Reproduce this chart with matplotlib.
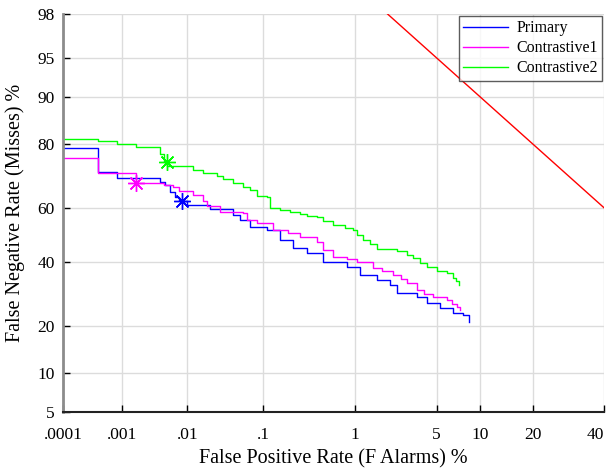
import numpy as np
import matplotlib
matplotlib.use('Agg')
import matplotlib.pyplot as plt
from statistics import NormalDist

plt.rcParams['font.family'] = ['Liberation Serif', 'DejaVu Serif']

# DET curves, values in percent (steps: x where the miss rate drops, new miss rate)
primary_fpr = [0.0001, 0.0004, 0.00083, 0.0040, 0.0047, 0.0056, 0.0066, 0.0075, 0.0083,
               0.0098, 0.0207, 0.0418, 0.0515, 0.069, 0.111, 0.159, 0.224, 0.322, 0.476,
               0.834, 1.117, 1.603, 2.09, 2.41, 3.52, 4.22, 5.26, 6.56, 7.66, 8.5]
primary_fnr = [79.0, 72.0, 70.1, 69.0, 67.9, 65.6, 63.9, 62.8, 62.4,
               61.0, 59.5, 57.4, 55.5, 53.1, 51.9, 48.2, 45.2, 43.4, 40.1,
               38.3, 35.5, 33.8, 32.1, 29.5, 28.2, 26.4, 24.9, 23.5, 22.9, 21.0]

contr1_fpr = [0.0001, 0.0004, 0.00083, 0.0017, 0.0045, 0.0062, 0.0075, 0.012, 0.0165,
              0.0188, 0.0282, 0.0564, 0.0634, 0.084, 0.132, 0.2, 0.269, 0.411, 0.476,
              0.608, 0.834, 1.045, 1.476, 1.8, 2.23, 2.6, 2.90, 3.52, 4.0, 4.68, 5.93,
              6.5, 6.98, 7.32]
contr1_fnr = [76.2, 71.9, 71.7, 68.6, 68.0, 67.3, 66.0, 64.5, 62.5,
              60.5, 58.6, 58.1, 55.5, 54.5, 51.9, 50.7, 49.3, 47.4, 44.5,
              41.9, 41.0, 40.1, 38.0, 36.8, 35.5, 34.0, 32.8, 30.5, 29.3, 28.2, 27.3,
              26.2, 25.2, 24.3]

contr2_fpr = [0.0001, 0.0004, 0.00083, 0.0017, 0.0040, 0.0045, 0.0050, 0.012, 0.0165,
              0.026, 0.031, 0.042, 0.056, 0.069, 0.084, 0.111, 0.121, 0.16, 0.207, 0.269,
              0.32, 0.411, 0.48, 0.608, 0.8, 0.955, 1.05, 1.197, 1.40, 1.603, 2.41, 2.9,
              3.25, 3.7, 4.22, 5.0, 5.93, 6.56, 6.9, 7.21]
contr2_fnr = [81.3, 80.9, 80.2, 79.4, 77.4, 75.2, 73.9, 72.7, 71.8,
              70.9, 69.9, 68.5, 67.2, 66.2, 64.1, 63.8, 59.9, 59.2, 58.5, 57.7,
              57.0, 56.6, 55.2, 53.7, 52.5, 51.9, 50.0, 48.2, 46.5, 44.8, 44.1, 42.8,
              41.5, 39.8, 38.3, 37.0, 36.2, 34.5, 33.3, 32.1]

# minimum cost points
min_pts = {'Primary': (0.0083, 62.4), 'Contrastive1': (0.0017, 68.6), 'Contrastive2': (0.0050, 75.0)}

# chance line
chance_fpr = [2.0, 40.0]
chance_fnr = [100 - v for v in chance_fpr]

xticks = [0.0001, 0.001, 0.01, 0.1, 1, 5, 10, 20, 40]
xticklabels = ['.0001', '.001', '.01', '.1', '1', '5', '10', '20', '40']
yticks = [5, 10, 20, 40, 60, 80, 90, 95, 98]

nd = NormalDist()


def _ppf1(p):
    if not np.isfinite(p):
        return np.nan
    return nd.inv_cdf(min(max(p / 100.0, 1e-12), 1 - 1e-12))


def _cdf1(z):
    if not np.isfinite(z):
        return np.nan
    return nd.cdf(z) * 100.0


_ppf = np.vectorize(_ppf1, otypes=[float])
_cdf = np.vectorize(_cdf1, otypes=[float])


def fwd(v):
    return _ppf(np.asarray(v, dtype=float))


def inv(v):
    return _cdf(np.asarray(v, dtype=float))


fig = plt.figure(figsize=(6.06, 4.70), dpi=100)
ax = fig.add_axes([0.104, 0.1234, 0.8927, 0.8468])
ax.set_xscale('function', functions=(fwd, inv))
ax.set_yscale('function', functions=(fwd, inv))

ax.plot(chance_fpr, chance_fnr, color='#ff0000', linewidth=1.0)
series = [('Primary', primary_fpr, primary_fnr, '#0000ff'),
          ('Contrastive1', contr1_fpr, contr1_fnr, '#ff00ff'),
          ('Contrastive2', contr2_fpr, contr2_fnr, '#00ff00')]
handles = []
for name, xs, ys, c in series:
    h, = ax.plot(xs, ys, color=c, linewidth=1.0, drawstyle='steps-post', label=name)
    handles.append(h)
    mx, my = min_pts[name]
    ax.plot([mx], [my], linestyle='none', marker=(8, 2, 0), markersize=12,
            markeredgecolor=c, markeredgewidth=1.0)

ax.set_xlim(0.0001, 40)
ax.set_ylim(5, 98)
ax.set_xticks(xticks)
ax.set_xticklabels(xticklabels)
ax.set_yticks(yticks)
ax.set_yticklabels([str(t) for t in yticks])
ax.minorticks_off()
ax.tick_params(direction='in', length=5, width=1, labelsize=12.5, colors='black')
ax.tick_params(axis='x', pad=11)
ax.tick_params(axis='y', pad=6)
ax.get_xticklabels()[-1].set_horizontalalignment('right')

ax.grid(True, color='#dcdcdc', linewidth=1.0)
ax.set_axisbelow(True)
for s in ['top', 'right']:
    ax.spines[s].set_visible(False)
ax.spines['left'].set_color('#8c8c8c')
ax.spines['left'].set_linewidth(2.0)
ax.spines['bottom'].set_color('#222222')
ax.spines['bottom'].set_linewidth(1.5)

ax.set_xlabel('False Positive Rate (F Alarms) %', fontsize=14.5, labelpad=4)
ax.set_ylabel('False Negative Rate (Misses) %', fontsize=14.5, labelpad=9)

leg = ax.legend(handles=handles, loc='upper right', fontsize=11.5, frameon=True, fancybox=False,
                borderaxespad=0.1, handlelength=2.8, labelspacing=0.25, borderpad=0.3,
                handletextpad=0.5)
leg.get_frame().set_edgecolor('#333333')
leg.get_frame().set_linewidth(1.0)

plt.savefig('out.png', dpi=100)
